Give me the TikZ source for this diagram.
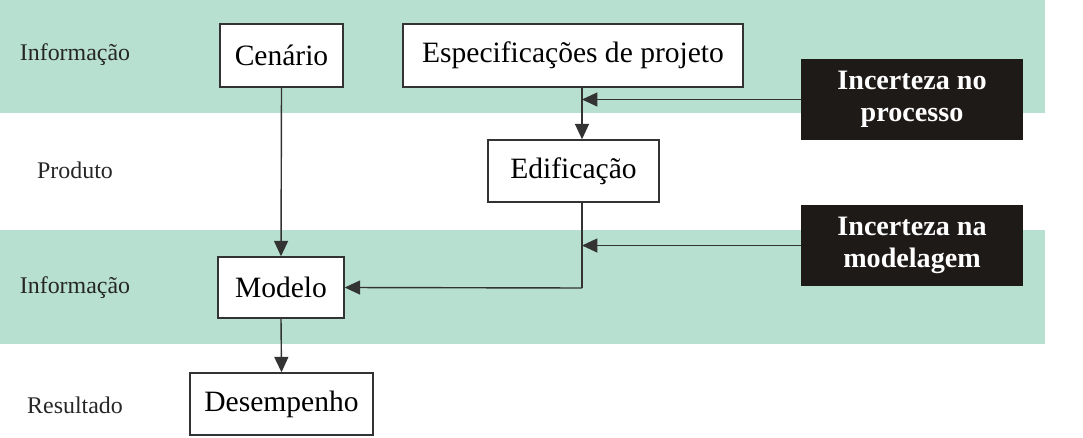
\documentclass[tikz,border=0pt]{standalone}
\usepackage{fontspec}
\setmainfont{Liberation Serif}
\usetikzlibrary{arrows.meta}
\definecolor{bandgreen}{HTML}{B7E0D0}
\definecolor{darkbox}{HTML}{1E1A18}

\begin{document}
\begin{tikzpicture}[x=0.025cm, y=-0.025cm,
    box/.style={draw=black!80, line width=1pt, fill=white, font=\fontsize{21}{24}\selectfont, inner sep=0pt},
    darkbox/.style={fill=darkbox, text=white, font=\bfseries\fontsize{20}{23}\selectfont, align=center, inner sep=0pt},
    rowlabel/.style={font=\fontsize{17}{19}\selectfont, text=black!85},
    link/.style={draw=black!80, line width=1pt},
    arr/.style={link, -{Triangle[length=11pt, width=10pt]}}]
        \useasboundingbox (0,0) rectangle (1083,438);

        % Bands
        \fill[bandgreen] (0,0) rectangle (1045,113);
        \fill[bandgreen] (0,230) rectangle (1045,344);

        % Row labels
        \node[rowlabel] (r1) at (75,55) {Informação};
        \node[rowlabel] (r2) at (75,170) {Produto};
        \node[rowlabel] (r3) at (75,288) {Informação};
        \node[rowlabel] (r4) at (75,405) {Resultado};

        % Boxes
        \node[box, minimum width=123*0.025cm, minimum height=63*0.025cm] (cen) at (281.5,55.5) {Cenário};
        \node[box, minimum width=340*0.025cm, minimum height=63*0.025cm] (esp) at (573,55.5) {Especificações de projeto};
        \node[box, minimum width=171*0.025cm, minimum height=62*0.025cm] (edi) at (573.5,171) {Edificação};
        \node[box, minimum width=126*0.025cm, minimum height=61*0.025cm] (mod) at (281,287.5) {Modelo};
        \node[box, minimum width=183*0.025cm, minimum height=62*0.025cm] (des) at (281.5,404) {Desempenho};

        % Uncertainty boxes
        \node[darkbox, minimum width=222*0.025cm, minimum height=81*0.025cm] (inp) at (912,99.5) {Incerteza no\\processo};
        \node[darkbox, minimum width=222*0.025cm, minimum height=81*0.025cm] (inm) at (912,245.5) {Incerteza na\\modelagem};

        % Junction points
        \coordinate (j1) at (582,99.5);
        \coordinate (j2) at (582,245.5);
        \coordinate (j3) at (582,288);

        % Connectors
        \draw[arr] (cen.south) -- (mod.north);
        \draw[link] (j1 |- esp.south) -- (j1);
        \draw[arr] (j1) -- (j1 |- edi.north);
        \draw[arr] (inp.west) -- (j1);
        \draw[link] (j2 |- edi.south) -- (j3);
        \draw[arr] (j3) -- (mod.east);
        \draw[arr] (inm.west) -- (j2);
        \draw[arr] (mod.south) -- (des.north);
\end{tikzpicture}
\end{document}
